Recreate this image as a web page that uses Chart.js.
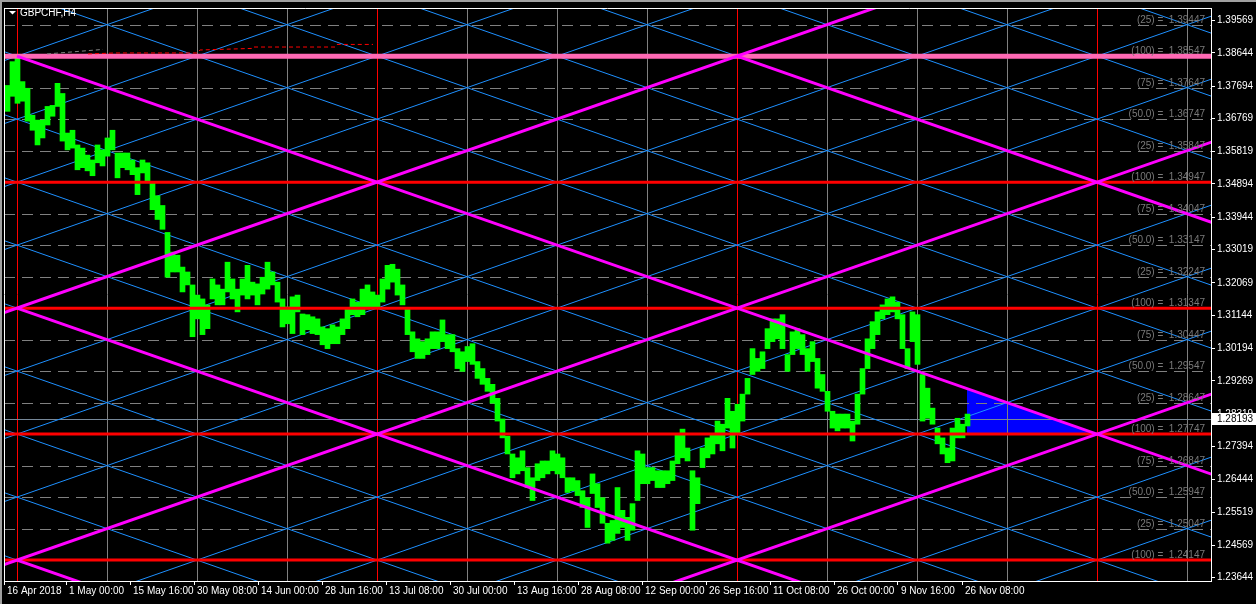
<!DOCTYPE html>
<html>
<head>
<meta charset="utf-8">
<title>GBPCHF,H4</title>
<script src="https://cdn.jsdelivr.net/npm/chart.js@4.4.1/dist/chart.umd.min.js"></script>
<style>
  html, body { margin: 0; padding: 0; background: #000; overflow: hidden; }
  canvas { display: block; }
</style>
</head>
<body>
<canvas id="chart" width="1256" height="604"></canvas>
<script>
// ===== GBPCHF H4 with Murrey levels + Gann grid overlay =====

const symbolTitle = 'GBPCHF,H4';

// price bars: one entry per 5 H4 bars, starting at bar 1
const barHighs = [
  1.3771, 1.3839, 1.3848, 1.3782, 1.3763, 1.3686, 1.3672, 1.3672, 1.3711, 1.3714,
  1.3777, 1.3748, 1.3635, 1.3643, 1.3601, 1.3592, 1.3572, 1.3558, 1.3601, 1.3587,
  1.3621, 1.3643, 1.3578, 1.3578, 1.3578, 1.3558, 1.3536, 1.3558, 1.3550, 1.3493,
  1.3456, 1.3428, 1.3351, 1.3295, 1.3286, 1.3252, 1.3238, 1.3201, 1.3172, 1.3161,
  1.3144, 1.3218, 1.3201, 1.3189, 1.3266, 1.3218, 1.3189, 1.3218, 1.3257, 1.3209,
  1.3204, 1.3223, 1.3266, 1.3238, 1.3209, 1.3161, 1.3138, 1.3167, 1.3172, 1.3118,
  1.3116, 1.3110, 1.3104, 1.3081, 1.3076, 1.3087, 1.3081, 1.3104, 1.3132, 1.3161,
  1.3152, 1.3189, 1.3201, 1.3181, 1.3172, 1.3218, 1.3257, 1.3260, 1.3246, 1.3201,
  1.3132, 1.3067, 1.3047, 1.3039, 1.3047, 1.3067, 1.3067, 1.3101, 1.3059, 1.3059,
  1.3019, 1.3010, 1.3025, 1.3033, 1.2982, 1.2962, 1.2934, 1.2917, 1.2877, 1.2818,
  1.2769, 1.2718, 1.2707, 1.2727, 1.2679, 1.2650, 1.2690, 1.2698, 1.2698, 1.2727,
  1.2718, 1.2707, 1.2650, 1.2650, 1.2642, 1.2613, 1.2593, 1.2661, 1.2633, 1.2593,
  1.2520, 1.2528, 1.2622, 1.2557, 1.2537, 1.2576, 1.2727, 1.2718, 1.2679, 1.2679,
  1.2670, 1.2670, 1.2670, 1.2698, 1.2775, 1.2789, 1.2735, 1.2670, 1.2650, 1.2735,
  1.2764, 1.2775, 1.2812, 1.2803, 1.2877, 1.2840, 1.2860, 1.2889, 1.2934, 1.3019,
  1.2991, 1.3010, 1.3076, 1.3104, 1.3104, 1.3116, 1.3002, 1.3067, 1.3076, 1.3059,
  1.3019, 1.3039, 1.2991, 1.2945, 1.2897, 1.2840, 1.2832, 1.2832, 1.2832, 1.2812,
  1.2889, 1.2962, 1.3047, 1.3096, 1.3124, 1.3144, 1.3161, 1.3167, 1.3152, 1.3116,
  1.3019, 1.3124, 1.3116, 1.2945, 1.2906, 1.2849, 1.2792, 1.2764, 1.2735, 1.2792,
  1.2820, 1.2803, 1.2832
];
const barLows = [
  1.3697, 1.3740, 1.3720, 1.3726, 1.3669, 1.3643, 1.3601, 1.3621, 1.3658, 1.3683,
  1.3711, 1.3612, 1.3587, 1.3592, 1.3530, 1.3536, 1.3527, 1.3513, 1.3550, 1.3541,
  1.3569, 1.3587, 1.3507, 1.3536, 1.3530, 1.3516, 1.3459, 1.3521, 1.3493, 1.3416,
  1.3388, 1.3360, 1.3223, 1.3238, 1.3238, 1.3181, 1.3201, 1.3053, 1.3104, 1.3059,
  1.3076, 1.3161, 1.3144, 1.3144, 1.3181, 1.3161, 1.3124, 1.3172, 1.3161, 1.3172,
  1.3144, 1.3175, 1.3189, 1.3201, 1.3152, 1.3081, 1.3090, 1.3062, 1.3124, 1.3059,
  1.3073, 1.3062, 1.3059, 1.3030, 1.3019, 1.3033, 1.3033, 1.3059, 1.3076, 1.3116,
  1.3110, 1.3116, 1.3132, 1.3138, 1.3138, 1.3152, 1.3189, 1.3209, 1.3172, 1.3144,
  1.3059, 1.3010, 1.2991, 1.2991, 1.3002, 1.3019, 1.3019, 1.3039, 1.3019, 1.3010,
  1.2962, 1.2954, 1.2982, 1.2974, 1.2934, 1.2917, 1.2897, 1.2863, 1.2812, 1.2764,
  1.2718, 1.2650, 1.2661, 1.2670, 1.2622, 1.2585, 1.2642, 1.2650, 1.2661, 1.2670,
  1.2661, 1.2650, 1.2608, 1.2613, 1.2599, 1.2565, 1.2508, 1.2605, 1.2565, 1.2520,
  1.2463, 1.2471, 1.2491, 1.2508, 1.2471, 1.2500, 1.2585, 1.2633, 1.2633, 1.2642,
  1.2622, 1.2622, 1.2633, 1.2642, 1.2690, 1.2707, 1.2698, 1.2500, 1.2576, 1.2679,
  1.2707, 1.2718, 1.2747, 1.2727, 1.2792, 1.2735, 1.2775, 1.2812, 1.2889, 1.2945,
  1.2954, 1.2962, 1.3019, 1.3039, 1.3047, 1.3019, 1.2954, 1.3002, 1.3019, 1.3002,
  1.2954, 1.2982, 1.2906, 1.2897, 1.2840, 1.2792, 1.2784, 1.2792, 1.2792, 1.2755,
  1.2803, 1.2889, 1.2962, 1.3019, 1.3059, 1.3104, 1.3116, 1.3124, 1.3104, 1.3019,
  1.2962, 1.3039, 1.2974, 1.2812, 1.2820, 1.2803, 1.2747, 1.2718, 1.2693, 1.2698,
  1.2764, 1.2764, 1.2798
];
const sliceFirstBar = 1;
const sliceBars = 5;

const currentPrice = 1.28193;

// right axis prices and bottom axis times, as the terminal prints them
const yTickValues = [
  1.39569, 1.38644, 1.37694, 1.36769, 1.35819, 1.34894, 1.33944, 1.33019, 1.32069,
  1.31144, 1.30194, 1.29269, 1.28319, 1.27394, 1.26444, 1.25519, 1.24569, 1.23644
];
const xTickBars = [0, 62, 126, 190, 254, 318, 382, 446, 510, 574, 638, 702, 766, 830, 894, 958];
const xTickLabels = [
  '16 Apr 2018', '1 May 00:00', '15 May 16:00', '30 May 08:00', '14 Jun 00:00',
  '28 Jun 16:00', '13 Jul 08:00', '30 Jul 00:00', '13 Aug 16:00', '28 Aug 08:00',
  '12 Sep 00:00', '26 Sep 16:00', '11 Oct 08:00', '26 Oct 00:00', '9 Nov 16:00',
  '26 Nov 08:00'
];

// murrey levels, top to bottom, with their octave tags
const levelPrices = [
  1.40347, 1.39447, 1.38547, 1.37647, 1.36747, 1.35847, 1.34947, 1.34047, 1.33147,
  1.32247, 1.31347, 1.30447, 1.29547, 1.28647, 1.27747, 1.26847, 1.25947, 1.25047,
  1.24147, 1.23247, 1.22347
];
const levelTags = [
  '50.0', '25', '100', '75', '50.0', '25', '100', '75', '50.0',
  '25', '100', '75', '50.0', '25', '100', '75', '50.0', '25',
  '100', '75', '50.0'
];
const highlightLevel = 1.38547;

// gann grid columns (bar numbers), one every 90 bars
const gannBars = [-77, 13, 103, 193, 283, 373, 463, 553, 643, 733, 823, 913, 1003, 1093, 1183, 1273, 1363];

// magenta fan lines: [barA, priceA, barB, priceB]
const fanLines = [
  [13, 1.38547, 1273, 1.25947],
  [-77, 1.30447, 913, 1.40347],
  [13, 1.31347, 913, 1.22347],
  [-77, 1.23247, 1363, 1.37647],
  [553, 1.22347, 1363, 1.30447],
  [13, 1.24147, 193, 1.22347],
  [733, 1.38547, 1363, 1.32247]
];

// filled triangle near the last bar
const triangleBars = [963, 963, 1093];
const trianglePrices = [1.29047, 1.27747, 1.27747];

// short dashed trend near the top
const redDashBars = [84, 111, 193, 196, 249, 250, 331, 333, 369];
const redDashPrices = [1.38610, 1.38638, 1.38638, 1.38723, 1.38769, 1.38808, 1.38808, 1.38882, 1.38882];
const grayDashBars = [43, 99];
const grayDashPrices = [1.38610, 1.38740];

const FONT = '"Liberation Sans", Arial, sans-serif';
Chart.defaults.font.family = FONT;
Chart.defaults.font.size = 10;

function strokeLine(ctx, x1, y1, x2, y2) {
  ctx.beginPath();
  ctx.moveTo(x1, y1);
  ctx.lineTo(x2, y2);
  ctx.stroke();
}

function clipTo(ctx, a) {
  ctx.beginPath();
  ctx.rect(a.left, a.top, a.right - a.left, a.bottom - a.top);
  ctx.clip();
}

function strokePath(ctx, xs, ys, x, y) {
  ctx.beginPath();
  xs.forEach((b, i) => {
    const px = x.getPixelForValue(b), py = y.getPixelForValue(ys[i]);
    if (i === 0) ctx.moveTo(px, py); else ctx.lineTo(px, py);
  });
  ctx.stroke();
}

const overlayPlugin = {
  id: 'mt4Overlay',
  beforeDraw(chart) {
    const { ctx, width, height } = chart;
    ctx.save();
    ctx.fillStyle = '#000';
    ctx.fillRect(0, 0, width, height);
    ctx.fillStyle = '#a0a0a0';
    ctx.fillRect(0, 0, width, 2);
    ctx.fillRect(0, 0, 2, height);
    ctx.restore();
  },
  beforeDatasetsDraw(chart) {
    const { ctx, chartArea: a, scales: { x, y } } = chart;
    ctx.save();
    clipTo(ctx, a);

    // triangle (background object)
    ctx.fillStyle = '#0000ff';
    ctx.beginPath();
    triangleBars.forEach((b, i) => {
      const px = x.getPixelForValue(b), py = y.getPixelForValue(trianglePrices[i]);
      if (i === 0) ctx.moveTo(px, py); else ctx.lineTo(px, py);
    });
    ctx.closePath();
    ctx.fill();

    // vertical grid of the gann box
    ctx.lineWidth = 1;
    gannBars.forEach((b, c) => {
      if (b < 0) return;
      const px = Math.round(x.getPixelForValue(b)) + 0.5;
      ctx.strokeStyle = (c - 1) % 4 === 0 ? '#ff0000' : '#808080';
      strokeLine(ctx, px, a.top, px, a.bottom);
    });

    // dashed quarter levels
    ctx.strokeStyle = '#808080';
    ctx.setLineDash([11, 7]);
    levelPrices.forEach((p, i) => {
      if (levelTags[i] === '100') return;
      const py = Math.round(y.getPixelForValue(p)) + 0.5;
      strokeLine(ctx, a.left, py, a.right, py);
    });
    ctx.setLineDash([]);

    // bid line
    ctx.strokeStyle = '#778899';
    const by = Math.round(y.getPixelForValue(currentPrice)) + 0.5;
    strokeLine(ctx, a.left, by, a.right, by);

    // diamond lattice
    ctx.strokeStyle = '#1e90ff';
    for (let c = 0; c < gannBars.length - 1; c++) {
      for (let l = 0; l < levelPrices.length; l++) {
        if ((c + l) % 2 !== 1) continue;
        const x0 = x.getPixelForValue(gannBars[c]);
        const y0 = y.getPixelForValue(levelPrices[l]);
        const x1 = x.getPixelForValue(gannBars[c + 1]);
        if (l + 1 < levelPrices.length) strokeLine(ctx, x0, y0, x1, y.getPixelForValue(levelPrices[l + 1]));
        if (l - 1 >= 0) strokeLine(ctx, x0, y0, x1, y.getPixelForValue(levelPrices[l - 1]));
      }
    }
    ctx.restore();
  },
  afterDatasetsDraw(chart) {
    const { ctx, chartArea: a, scales: { x, y } } = chart;
    ctx.save();
    clipTo(ctx, a);

    // octave (100) levels
    levelPrices.forEach((p, i) => {
      if (levelTags[i] !== '100') return;
      const py = y.getPixelForValue(p);
      if (p === highlightLevel) {
        ctx.strokeStyle = '#ff69b4';
        ctx.lineWidth = 5;
      } else {
        ctx.strokeStyle = '#ff0000';
        ctx.lineWidth = 3;
      }
      strokeLine(ctx, a.left, py, a.right, py);
    });

    // magenta fan
    ctx.strokeStyle = '#ff00ff';
    ctx.lineWidth = 3;
    fanLines.forEach(([b1, p1, b2, p2]) => {
      strokeLine(ctx, x.getPixelForValue(b1), y.getPixelForValue(p1), x.getPixelForValue(b2), y.getPixelForValue(p2));
    });

    // short dashed trend
    ctx.lineWidth = 1;
    ctx.setLineDash([4, 3]);
    ctx.strokeStyle = '#808080';
    strokePath(ctx, grayDashBars, grayDashPrices, x, y);
    ctx.strokeStyle = '#ff0000';
    strokePath(ctx, redDashBars, redDashPrices, x, y);
    ctx.setLineDash([]);

    // level captions
    ctx.font = '10px ' + FONT;
    ctx.fillStyle = '#7a7a7a';
    ctx.textAlign = 'right';
    ctx.textBaseline = 'alphabetic';
    levelPrices.forEach((p, i) => {
      const py = y.getPixelForValue(p);
      if (py < a.top + 8 || py > a.bottom) return;
      ctx.fillText('(' + levelTags[i] + ') =  ' + p.toFixed(5), a.right - 6, py - 2);
    });
    ctx.restore();

    // frame top / left
    ctx.save();
    ctx.strokeStyle = '#ffffff';
    ctx.lineWidth = 1;
    strokeLine(ctx, a.left + 0.5, a.top, a.left + 0.5, a.bottom);
    strokeLine(ctx, a.left, a.top + 0.5, a.right, a.top + 0.5);

    // title
    ctx.fillStyle = '#ffffff';
    ctx.beginPath();
    ctx.moveTo(9, 11);
    ctx.lineTo(16, 11);
    ctx.lineTo(12.5, 14.5);
    ctx.closePath();
    ctx.fill();
    ctx.font = '10px ' + FONT;
    ctx.textAlign = 'left';
    ctx.textBaseline = 'middle';
    ctx.fillText(symbolTitle, 20, 13);
    ctx.restore();
  },
  afterDraw(chart) {
    const { ctx, chartArea: a, scales: { y } } = chart;
    const py = Math.round(y.getPixelForValue(currentPrice));
    ctx.save();
    ctx.fillStyle = '#ffffff';
    ctx.fillRect(a.right + 1, py - 6, chart.width - a.right - 1, 12);
    ctx.fillStyle = '#000000';
    ctx.font = '10px ' + FONT;
    ctx.textAlign = 'left';
    ctx.textBaseline = 'middle';
    ctx.fillText(currentPrice.toFixed(5), a.right + 6, py + 0.5);
    ctx.restore();
  }
};

const priceBars = barHighs.map((h, i) => ({
  x: sliceFirstBar + sliceBars * i + sliceBars / 2,
  y: [barLows[i], h]
}));

new Chart(document.getElementById('chart'), {
  type: 'bar',
  data: {
    datasets: [{
      data: priceBars,
      backgroundColor: '#00ff00',
      borderWidth: 0,
      barThickness: 5,
      grouped: false
    }]
  },
  options: {
    responsive: false,
    animation: false,
    devicePixelRatio: 1,
    layout: { padding: { left: 4, top: 4, right: 0, bottom: 0 } },
    plugins: {
      legend: { display: false },
      tooltip: { enabled: false },
      title: { display: false }
    },
    scales: {
      x: {
        type: 'linear',
        position: 'bottom',
        min: 0,
        max: 1207,
        offset: false,
        afterFit: (s) => { s.height = 23; },
        afterBuildTicks: (s) => { s.ticks = xTickBars.map(v => ({ value: v })); },
        grid: { offset: false, drawOnChartArea: false, tickLength: 4, color: '#ffffff' },
        border: { display: true, color: '#ffffff' },
        ticks: {
          color: '#ffffff',
          autoSkip: false,
          maxRotation: 0,
          align: 'start',
          labelOffset: 3,
          padding: 0,
          callback: (v, i) => xTickLabels[i]
        }
      },
      y: {
        type: 'linear',
        position: 'right',
        min: 1.2355,
        max: 1.39923,
        afterFit: (s) => { s.width = 45; },
        afterBuildTicks: (s) => { s.ticks = yTickValues.map(v => ({ value: v })); },
        grid: { drawOnChartArea: false, tickLength: 4, color: '#ffffff' },
        border: { display: true, color: '#ffffff' },
        ticks: {
          color: '#ffffff',
          padding: 2,
          callback: (v) => v.toFixed(5)
        }
      }
    }
  },
  plugins: [overlayPlugin]
});
</script>
</body>
</html>
